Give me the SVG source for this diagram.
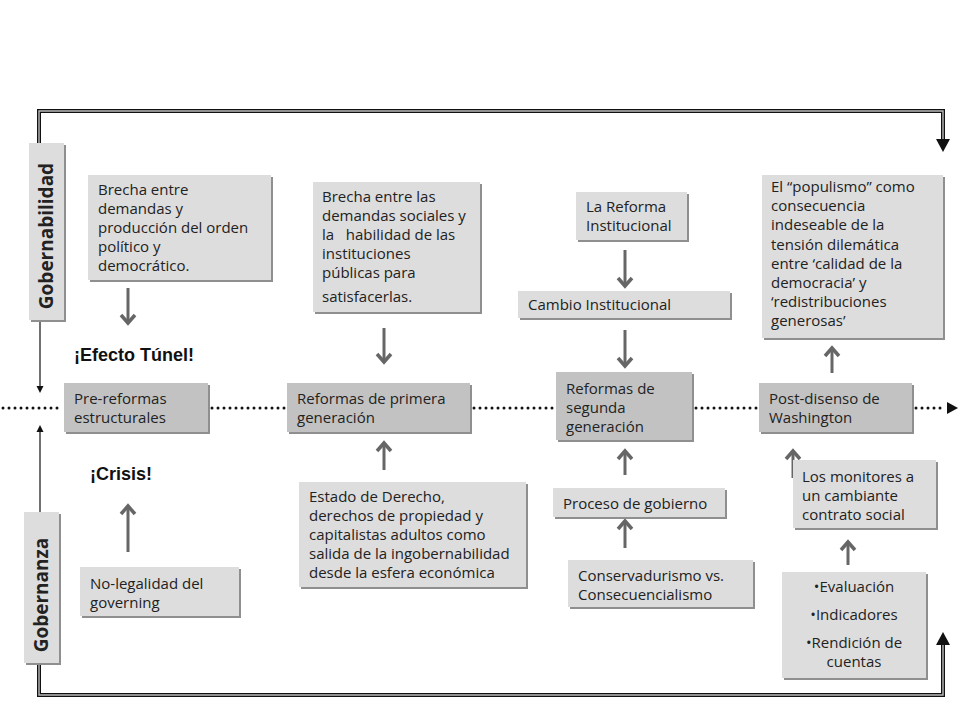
<svg xmlns="http://www.w3.org/2000/svg" width="960" height="720" viewBox="0 0 960 720">
<style>
.sh{fill:#8f8f8f}
.bx{fill:#dddddd}
.bd{fill:#c2c2c2}
.t{font-family:"Open Sans","DejaVu Sans",sans-serif;font-size:15px;fill:#222}
.lab{font-family:"Open Sans","DejaVu Sans",sans-serif;font-size:19px;font-weight:bold;fill:#222}
.ex{font-family:"Liberation Sans",Arial,sans-serif;font-size:18px;font-weight:bold;fill:#111}
.ar{stroke:#666;stroke-width:3;fill:none}
.ah{stroke:#666;stroke-width:3.5;fill:none;stroke-linejoin:miter}
.dbl{fill:none;stroke:#111;stroke-width:4}
.dbi{fill:none;stroke:#bbbbbb;stroke-width:1.4}
.dot{stroke:#111;stroke-width:3;stroke-linecap:round;stroke-dasharray:0 6;fill:none}
</style>
<rect width="960" height="720" fill="#ffffff"/>
<g id="connectors">
  <path class="dbl" d="M39,143 V111 H943 V140"/>
  <path class="dbi" d="M39,143 V111 H943 V140"/>
  <polygon points="936,139 950,139 943,152" fill="#111"/>
  <path class="dbl" d="M39,663 V695 H943 V644"/>
  <path class="dbi" d="M39,663 V695 H943 V644"/>
  <polygon points="936,645 950,645 943,632" fill="#111"/>
  <line x1="40" y1="320" x2="40" y2="387" stroke="#111" stroke-width="1.2"/>
  <polygon points="36.5,386 43.5,386 40,393" fill="#111"/>
  <line x1="40" y1="431" x2="40" y2="512" stroke="#111" stroke-width="1.2"/>
  <polygon points="36.5,432 43.5,432 40,425" fill="#111"/>
  <path class="dot" d="M3,408 H62"/>
  <path class="dot" d="M212,408 H286"/>
  <path class="dot" d="M474,408 H555"/>
  <path class="dot" d="M696,408 H758"/>
  <path class="dot" d="M916,408 H946"/>
  <polygon points="947,402 958,408 947,414" fill="#111"/>
  <line class="ar" x1="128" y1="288" x2="128" y2="323"/>
  <path class="ah" d="M121,315 L128,323 L135,315"/>
  <line class="ar" x1="384" y1="328" x2="384" y2="362"/>
  <path class="ah" d="M377,354 L384,362 L391,354"/>
  <line class="ar" x1="625" y1="250" x2="625" y2="286"/>
  <path class="ah" d="M618,278 L625,286 L632,278"/>
  <line class="ar" x1="625" y1="330" x2="625" y2="366"/>
  <path class="ah" d="M618,358 L625,366 L632,358"/>
  <line class="ar" x1="832" y1="373" x2="832" y2="348"/>
  <path class="ah" d="M825,356 L832,348 L839,356"/>
  <line class="ar" x1="128" y1="552" x2="128" y2="506"/>
  <path class="ah" d="M121,514 L128,506 L135,514"/>
  <line class="ar" x1="384" y1="470" x2="384" y2="443"/>
  <path class="ah" d="M377,451 L384,443 L391,451"/>
  <line class="ar" x1="625" y1="475" x2="625" y2="451"/>
  <path class="ah" d="M618,459 L625,451 L632,459"/>
  <line class="ar" x1="625" y1="548" x2="625" y2="521"/>
  <path class="ah" d="M618,529 L625,521 L632,529"/>
  <line class="ar" x1="793" y1="478" x2="793" y2="451"/>
  <path class="ah" d="M786,459 L793,451 L800,459"/>
  <line class="ar" x1="848" y1="565" x2="848" y2="542"/>
  <path class="ah" d="M841,550 L848,542 L855,550"/>
</g>
<g id="gobernabilidad">
  <rect class="sh" x="31" y="145" width="35" height="177"/>
  <rect class="bx" x="29" y="143" width="35" height="177"/>
  <text class="lab" transform="translate(53,236) rotate(-90)" text-anchor="middle">Gobernabilidad</text>
</g>
<g id="gobernanza">
  <rect class="sh" x="26" y="514" width="35" height="151"/>
  <rect class="bx" x="24" y="512" width="35" height="151"/>
  <text class="lab" transform="translate(48,595) rotate(-90)" text-anchor="middle">Gobernanza</text>
</g>
<g id="brecha1">
  <rect class="sh" x="90" y="177" width="183" height="105"/>
  <rect class="bx" x="88" y="175" width="183" height="105"/>
  <text class="t" x="98" y="195">Brecha entre</text>
  <text class="t" x="98" y="214">demandas y</text>
  <text class="t" x="98" y="233">producción del orden</text>
  <text class="t" x="98" y="252">político y</text>
  <text class="t" x="98" y="271">democrático.</text>
</g>
<g id="brecha2">
  <rect class="sh" x="315" y="184" width="167" height="130"/>
  <rect class="bx" x="313" y="182" width="167" height="130"/>
  <text class="t" x="322" y="202">Brecha entre las</text>
  <text class="t" x="322" y="221">demandas sociales y</text>
  <text class="t" x="322" y="240" xml:space="preserve">la   habilidad de las</text>
  <text class="t" x="322" y="259">instituciones</text>
  <text class="t" x="322" y="278">públicas para</text>
  <text class="t" x="322" y="302">satisfacerlas.</text>
</g>
<g id="reforma-institucional">
  <rect class="sh" x="578" y="194" width="111" height="48"/>
  <rect class="bx" x="576" y="192" width="111" height="48"/>
  <text class="t" x="586" y="212">La Reforma</text>
  <text class="t" x="586" y="231">Institucional</text>
</g>
<g id="cambio-institucional">
  <rect class="sh" x="520" y="293" width="212" height="27"/>
  <rect class="bx" x="518" y="291" width="212" height="27"/>
  <text class="t" x="528" y="310">Cambio Institucional</text>
</g>
<g id="populismo">
  <rect class="sh" x="764" y="177" width="181" height="163"/>
  <rect class="bx" x="762" y="175" width="181" height="163"/>
  <text class="t" x="771" y="192">El “populismo” como</text>
  <text class="t" x="771" y="211">consecuencia</text>
  <text class="t" x="771" y="230">indeseable de la</text>
  <text class="t" x="771" y="250">tensión dilemática</text>
  <text class="t" x="771" y="269">entre ‘calidad de la</text>
  <text class="t" x="771" y="288">democracia’ y</text>
  <text class="t" x="771" y="307">‘redistribuciones</text>
  <text class="t" x="771" y="326">generosas’</text>
</g>
<g id="efecto-tunel">
  <text class="ex" x="74" y="361">¡Efecto Túnel!</text>
</g>
<g id="crisis">
  <text class="ex" x="90" y="480">¡Crisis!</text>
</g>
<g id="pre-reformas">
  <rect class="sh" x="66" y="385" width="144" height="49"/>
  <rect class="bd" x="64" y="383" width="144" height="49"/>
  <text class="t" x="74" y="404">Pre-reformas</text>
  <text class="t" x="74" y="423">estructurales</text>
</g>
<g id="reformas-primera">
  <rect class="sh" x="289" y="385" width="183" height="49"/>
  <rect class="bd" x="287" y="383" width="183" height="49"/>
  <text class="t" x="297" y="404">Reformas de primera</text>
  <text class="t" x="297" y="423">generación</text>
</g>
<g id="reformas-segunda">
  <rect class="sh" x="558" y="374" width="136" height="68"/>
  <rect class="bd" x="556" y="372" width="136" height="68"/>
  <text class="t" x="566" y="394">Reformas de</text>
  <text class="t" x="566" y="413">segunda</text>
  <text class="t" x="566" y="432">generación</text>
</g>
<g id="post-disenso">
  <rect class="sh" x="761" y="385" width="153" height="49"/>
  <rect class="bd" x="759" y="383" width="153" height="49"/>
  <text class="t" x="769" y="404">Post-disenso de</text>
  <text class="t" x="769" y="423">Washington</text>
</g>
<g id="no-legalidad">
  <rect class="sh" x="82" y="569" width="159" height="49"/>
  <rect class="bx" x="80" y="567" width="159" height="49"/>
  <text class="t" x="90" y="589">No-legalidad del</text>
  <text class="t" x="90" y="608">governing</text>
</g>
<g id="estado-derecho">
  <rect class="sh" x="301" y="484" width="227" height="105"/>
  <rect class="bx" x="299" y="482" width="227" height="105"/>
  <text class="t" x="309" y="502">Estado de Derecho,</text>
  <text class="t" x="309" y="521">derechos de propiedad y</text>
  <text class="t" x="309" y="540">capitalistas adultos como</text>
  <text class="t" x="309" y="559">salida de la ingobernabilidad</text>
  <text class="t" x="309" y="578">desde la esfera económica</text>
</g>
<g id="proceso-gobierno">
  <rect class="sh" x="555" y="490" width="172" height="29"/>
  <rect class="bx" x="553" y="488" width="172" height="29"/>
  <text class="t" x="563" y="509">Proceso de gobierno</text>
</g>
<g id="conservadurismo">
  <rect class="sh" x="570" y="562" width="185" height="47"/>
  <rect class="bx" x="568" y="560" width="185" height="47"/>
  <text class="t" x="578" y="581">Conservadurismo vs.</text>
  <text class="t" x="578" y="600">Consecuencialismo</text>
</g>
<g id="monitores">
  <rect class="sh" x="795" y="462" width="143" height="68"/>
  <rect class="bx" x="793" y="460" width="143" height="68"/>
  <text class="t" x="802" y="482">Los monitores a</text>
  <text class="t" x="802" y="501">un cambiante</text>
  <text class="t" x="802" y="520">contrato social</text>
</g>
<g id="evaluacion">
  <rect class="sh" x="784" y="574" width="144" height="106"/>
  <rect class="bx" x="782" y="572" width="144" height="106"/>
  <text class="t" x="854" y="592" text-anchor="middle">•Evaluación</text>
  <text class="t" x="854" y="620" text-anchor="middle">•Indicadores</text>
  <text class="t" x="854" y="648" text-anchor="middle">•Rendición de</text>
  <text class="t" x="854" y="667" text-anchor="middle">cuentas</text>
</g>
</svg>
